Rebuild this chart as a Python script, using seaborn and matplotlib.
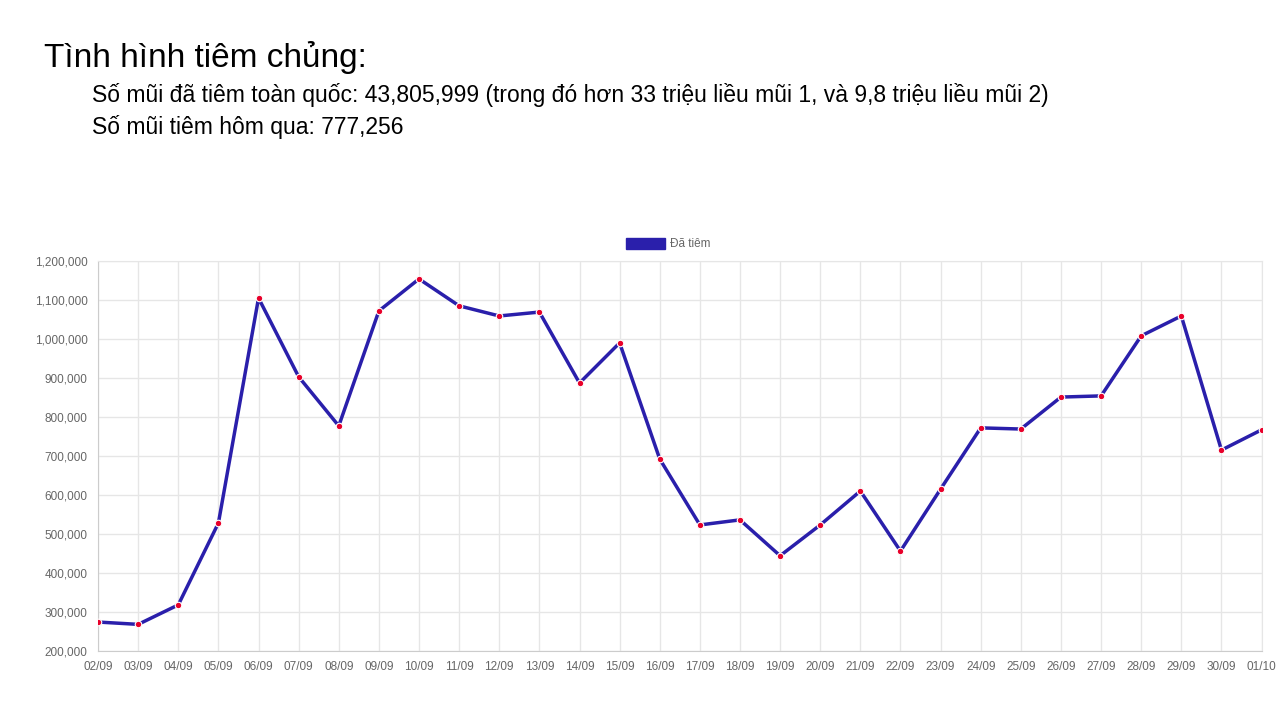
import matplotlib
matplotlib.use('Agg')
import matplotlib.pyplot as plt
import matplotlib.ticker as mticker
from matplotlib.patches import Patch
import seaborn as sns
import pandas as pd

dates = ['02/09', '03/09', '04/09', '05/09', '06/09', '07/09', '08/09', '09/09', '10/09', '11/09',
         '12/09', '13/09', '14/09', '15/09', '16/09', '17/09', '18/09', '19/09', '20/09', '21/09',
         '22/09', '23/09', '24/09', '25/09', '26/09', '27/09', '28/09', '29/09', '30/09', '01/10']
doses = [274000, 268000, 318000, 528000, 1105000, 903000, 777000, 1072000, 1154000, 1085000,
         1059000, 1069000, 887000, 990000, 692000, 523000, 536000, 444000, 523000, 610000,
         456000, 615000, 772000, 769000, 851000, 854000, 1008000, 1059000, 715000, 767000]

df = pd.DataFrame({'x': range(len(dates)), 'v': doses})

sns.set_style('white')
plt.rcParams['font.family'] = ['Arial', 'Liberation Sans', 'DejaVu Sans']
plt.rcParams['text.color'] = 'black'

fig = plt.figure(figsize=(12.8, 7.2), dpi=100)
fig.text(0.034, 0.92, 'Tình hình tiêm chủng:', fontsize=24, va='center')
fig.text(0.072, 0.868, 'Số mũi đã tiêm toàn quốc: 43,805,999 (trong đó hơn 33 triệu liều mũi 1, và 9,8 triệu liều mũi 2)',
         fontsize=16.5, va='center')
fig.text(0.072, 0.824, 'Số mũi tiêm hôm qua: 777,256', fontsize=16.5, va='center')

ax = fig.add_axes([0.0766, 0.096, 0.909, 0.5415])
sns.lineplot(data=df, x='x', y='v', ax=ax, color='#2a1fab', linewidth=2.5, legend=False)
ax.scatter(df['x'], df['v'], s=22, color='#e8002a', edgecolor='white', linewidth=0.8, zorder=5)

ax.set_xlim(0, len(dates) - 1)
ax.set_ylim(200000, 1200000)
ax.set_xticks(range(len(dates)))
ax.set_xticklabels(dates)
ax.yaxis.set_major_locator(mticker.MultipleLocator(100000))
ax.yaxis.set_major_formatter(mticker.FuncFormatter(lambda v, p: f'{int(v):,}'))
ax.tick_params(labelsize=8.5, colors='#666666', length=4)
ax.grid(True, color='#e6e6e6', linewidth=1)
ax.set_xlabel('')
ax.set_ylabel('')
for s in ax.spines.values():
    s.set_color('#e6e6e6')
ax.spines['left'].set_color('#cccccc')
ax.spines['bottom'].set_color('#cccccc')

handle = Patch(facecolor='#2a1fab', edgecolor='#2a1fab', label='Đã tiêm')
leg = ax.legend(handles=[handle], loc='lower center', bbox_to_anchor=(0.49, 1.0), frameon=False,
                fontsize=8.5, handlelength=3.3, handleheight=1.1, handletextpad=0.4)
for t in leg.get_texts():
    t.set_color('#666666')

plt.savefig('out.png', dpi=100)
plt.close()
